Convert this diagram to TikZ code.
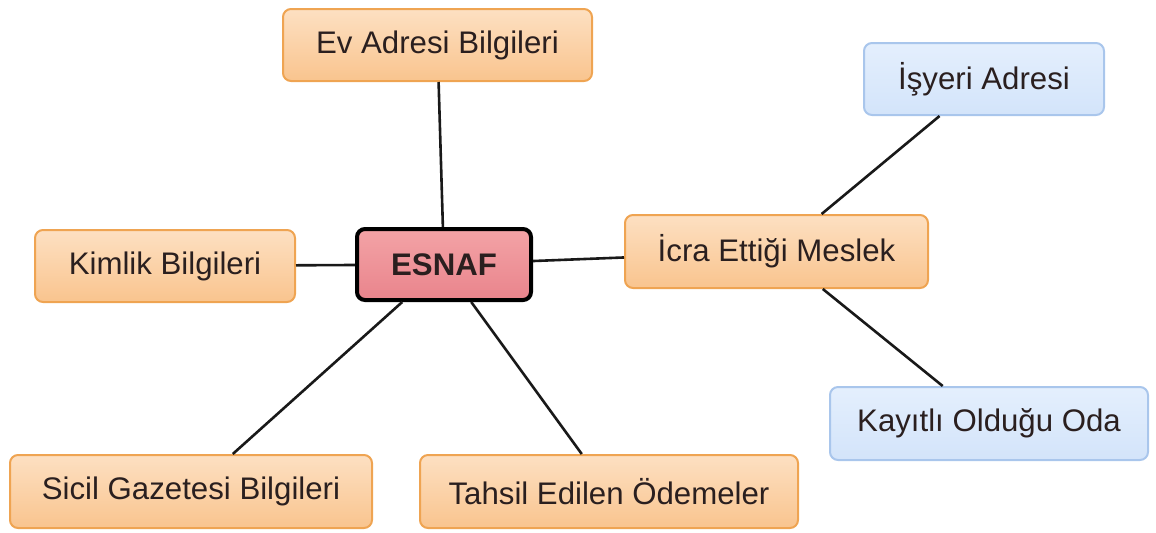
\documentclass[tikz,border=0pt]{standalone}
\usepackage{fontspec}
\setmainfont{Liberation Sans}
\definecolor{orfillA}{HTML}{FDE0C2}
\definecolor{orfillB}{HTML}{F9C48E}
\definecolor{ordraw}{HTML}{EFA452}
\definecolor{blfillA}{HTML}{E4EFFD}
\definecolor{blfillB}{HTML}{D3E4FA}
\definecolor{bldraw}{HTML}{A9C6EC}
\definecolor{rdfillA}{HTML}{F3A3A6}
\definecolor{rdfillB}{HTML}{E9848C}
\definecolor{txt}{HTML}{2A1F1F}
\tikzset{
  box/.style={rectangle, rounded corners=4pt, inner sep=0pt, align=center,
    text=txt, font=\fontsize{15.6}{18}\selectfont, line width=1pt},
  orbox/.style={box, draw=ordraw, top color=orfillA, bottom color=orfillB},
  blbox/.style={box, draw=bldraw, top color=blfillA, bottom color=blfillB},
  rootbox/.style={box, draw=black, line width=2pt, top color=rdfillA, bottom color=rdfillB, font=\fontsize{15.6}{18}\selectfont\bfseries},
  link/.style={draw=black!90, line width=1.3pt}
}
\begin{document}
\begin{tikzpicture}[x=0.5pt,y=-0.5pt]
\useasboundingbox (0,0) rectangle (1156,532);
\node[orbox, minimum width=154.5pt, minimum height=36pt] (ev) at (437.5,45) {Ev Adresi Bilgileri};
\node[rootbox, minimum width=87pt, minimum height=35.5pt] (esnaf) at (444,264.5) {ESNAF};
\node[blbox, minimum width=120pt, minimum height=36pt] (isyeri) at (984,79) {İşyeri Adresi};
\node[orbox, minimum width=151.5pt, minimum height=36.5pt] (icra) at (776.5,251.5) {İcra Ettiği Meslek};
\node[blbox, minimum width=159pt, minimum height=36.5pt] (oda) at (989,423.5) {Kayıtlı Olduğu Oda};
\node[orbox, minimum width=130pt, minimum height=36pt] (kimlik) at (165,266) {Kimlik Bilgileri};
\node[orbox, minimum width=181pt, minimum height=36.5pt] (sicil) at (191,491.5) {Sicil Gazetesi Bilgileri};
\node[orbox, minimum width=189pt, minimum height=36.5pt] (tahsil) at (609,491.5) {Tahsil Edilen Ödemeler};
\draw[link] (esnaf) -- (ev);
\draw[link] (esnaf) -- (kimlik);
\draw[link] (esnaf) -- (icra);
\draw[link] (esnaf) -- (sicil);
\draw[link] (esnaf) -- (tahsil);
\draw[link] (icra) -- (isyeri);
\draw[link] (icra) -- (oda);
\end{tikzpicture}
\end{document}
